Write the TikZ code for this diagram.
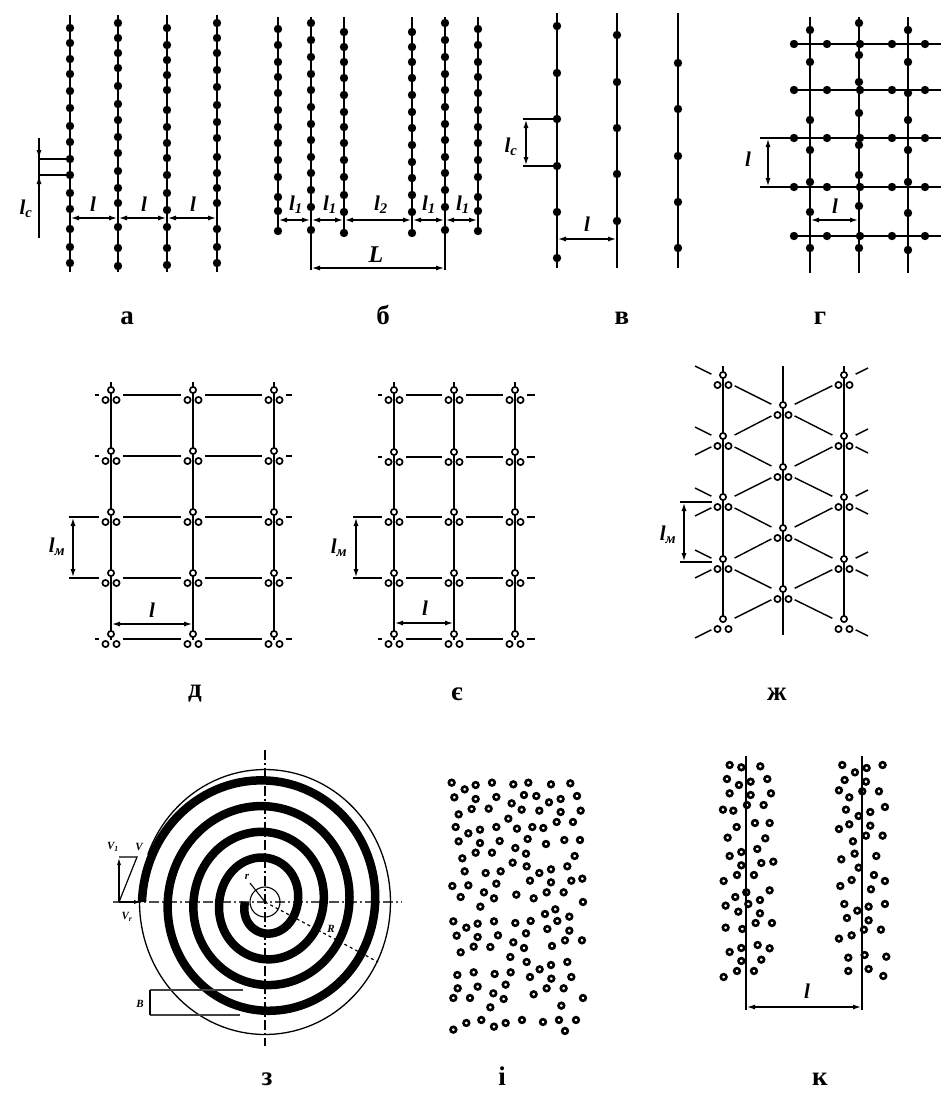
\documentclass[tikz,border=0pt]{standalone}
\usepackage{fontspec}
\setmainfont{Liberation Serif}
\usepackage{tikz}
\usetikzlibrary{positioning,arrows.meta}
\tikzset{
  wire/.style={line width=1.8pt},
  thinwire/.style={line width=1.4pt},
  thickwire/.style={line width=2.3pt},
  dimline/.style={line width=1.8pt,{Latex[length=9pt,width=5pt]}-{Latex[length=9pt,width=5pt]}},
  extline/.style={line width=1.5pt},
  dimtext/.style={font=\fontsize{21}{21}\selectfont\bfseries\itshape,inner sep=0pt},
  smalltext/.style={font=\fontsize{11}{11}\selectfont\bfseries\itshape,inner sep=0pt},
  captiontext/.style={font=\fontsize{27}{27}\selectfont\bfseries,inner sep=0pt},
  ring/.style={draw,fill=white,line width=1.7pt},
  grain/.style={line width=2.6pt},
  axisline/.style={line width=1.1pt,dash pattern=on 10pt off 3pt on 2pt off 3pt}
}
\newcommand{\triad}[2]{%
  \draw[ring] (#1,#2-5) circle[radius=3.1];
  \draw[ring] (#1-5.5,#2+5) circle[radius=3.1];
  \draw[ring] (#1+5.5,#2+5) circle[radius=3.1];
}
\begin{document}
\begin{tikzpicture}[x=1pt,y=-1pt,declare function={spr(\t)=20+\t/90*6.44+2.5*(1-cos(2*\t));outr(\t)=129-3.5*cos(2*\t);}]
\useasboundingbox (0,0) rectangle (949,1093);
% а
\foreach \x in {70,118,167,217} \draw[wire] (\x,15) -- (\x,272);
\foreach \x/\ylist in {70/{28,43,59,74,91,108,126,142,159,175,193,209,229,247,263},118/{23,38,53,68,86,104,120,137,153,171,188,203,227,248,266},167/{28,45,60,75,90,110,127,143,158,175,193,210,227,248,265},217/{23,38,53,70,87,105,122,138,157,173,188,203,229,247,263}}
  \foreach \y in \ylist \fill (\x,\y) circle[radius=4.2];
\draw[dimline] (70,218) -- (118,218);
\draw[dimline] (118,218) -- (167,218);
\draw[dimline] (167,218) -- (217,218);
\node[dimtext] (la1) at (93,204) {l};
\node[dimtext] (la2) at (144,204) {l};
\node[dimtext] (la3) at (193,204) {l};
\draw[extline] (39,159) -- (70,159);
\draw[extline] (39,175) -- (70,175);
\draw[line width=1.8pt] (39,138) -- (39,238);
\draw[line width=1.8pt,-{Latex[length=9pt,width=5pt]}] (39,142) -- (39,159);
\draw[line width=1.8pt,-{Latex[length=9pt,width=5pt]}] (39,194) -- (39,175);
\node[dimtext] (lca) at (26,209) {l\textsubscript{с}};
% б
\foreach \x in {278,311,344,412,445,478} \draw[wire] (\x,17) -- (\x,232);
\foreach \x/\ylist in {278/{29,45,62,77,93,110,127,143,160,177,197,211,231},311/{23,40,57,74,90,107,124,140,157,173,190,207,230},344/{32,47,62,78,95,112,127,143,160,177,195,212,233},412/{32,47,62,78,95,112,128,145,162,178,195,212,233},445/{23,40,57,74,90,107,124,140,157,173,190,207,230},478/{29,45,62,77,93,110,127,143,160,177,197,211,231}}
  \foreach \y in \ylist \fill (\x,\y) circle[radius=4.2];
\draw[dimline] (278,220) -- (311,220);
\draw[dimline] (311,220) -- (344,220);
\draw[dimline] (344,220) -- (412,220);
\draw[dimline] (412,220) -- (445,220);
\draw[dimline] (445,220) -- (478,220);
\node[dimtext] (l1a) at (296,205) {l\textsubscript{1}};
\node[dimtext] (l1b) at (330,205) {l\textsubscript{1}};
\node[dimtext] (l2a) at (381,205) {l\textsubscript{2}};
\node[dimtext] (l1c) at (429,205) {l\textsubscript{1}};
\node[dimtext] (l1d) at (463,205) {l\textsubscript{1}};
\draw[extline] (311,232) -- (311,270);
\draw[extline] (445,232) -- (445,270);
\draw[dimline] (311,268) -- (445,268);
\node[dimtext,font=\fontsize{24}{24}\selectfont\bfseries\itshape] (bigl) at (376,255) {L};
% в
\foreach \x in {557,617,678} \draw[wire] (\x,13) -- (\x,268);
\foreach \x/\ylist in {557/{26,73,119,166,212,258},617/{35,82,128,174,221},678/{63,109,156,202,248}}
  \foreach \y in \ylist \fill (\x,\y) circle[radius=4.2];
\draw[extline] (523,119) -- (557,119);
\draw[extline] (523,166) -- (557,166);
\draw[dimline] (526,119) -- (526,166);
\node[dimtext] (lcv) at (511,147) {l\textsubscript{с}};
\draw[dimline] (557,239) -- (617,239);
\node[dimtext] (lv) at (587,224) {l};
% г
\foreach \x in {810,859,908} \draw[wire] (\x,17) -- (\x,273);
\foreach \y in {44,236} \draw[wire] (790,\y) -- (941,\y);
\draw[thinwire] (790,90) -- (941,90);
\draw[wire] (760,138) -- (941,138);
\draw[wire] (760,187) -- (941,187);
\foreach \x/\ylist in {810/{30,62,120,150,182,212,248},859/{23,55,82,113,145,175,206,248},908/{30,62,93,120,150,182,213,250}}
  \foreach \y in \ylist \fill (\x,\y) circle[radius=4.2];
\foreach \y in {44,90,138,187,236} \foreach \x in {794,827,860,892,925} \fill (\x,\y) circle[radius=4.2];
\draw[dimline] (768,138) -- (768,187);
\node[dimtext] (lg) at (748,159) {l};
\draw[dimline] (810,220) -- (859,220);
\node[dimtext] (lh) at (835,206) {l};
% д
\foreach \y in {395,578,639} \draw[thickwire] (95,\y) -- (292,\y);
\foreach \y in {456,517} \draw[thinwire] (95,\y) -- (292,\y);
\draw[thinwire] (69,517) -- (95,517);
\draw[thickwire] (69,578) -- (95,578);
\foreach \x in {111,193,274} \foreach \y in {395,456,517,578,639} \fill[white] (\x,\y) circle[radius=12];
\foreach \x in {111,193,274} \draw[wire] (\x,382) -- (\x,640);
\foreach \x in {111,193,274} \foreach \y in {395,456,517,578,639} {\triad{\x}{\y}}
\draw[dimline] (73,517) -- (73,578);
\node[dimtext] (lmd) at (57,547) {l\textsubscript{м}};
\draw[dimline] (111,624) -- (193,624);
\node[dimtext] (ld) at (152,610) {l};
% є
\foreach \y in {395,578,639} \draw[thickwire] (378,\y) -- (535,\y);
\foreach \y in {457,517} \draw[thinwire] (378,\y) -- (535,\y);
\draw[thinwire] (353,517) -- (378,517);
\draw[thickwire] (353,578) -- (378,578);
\foreach \x in {394,454,515} \foreach \y in {395,457,517,578,639} \fill[white] (\x,\y) circle[radius=12];
\foreach \x in {394,454,515} \draw[wire] (\x,382) -- (\x,640);
\foreach \x in {394,454,515} \foreach \y in {395,457,517,578,639} {\triad{\x}{\y}}
\draw[dimline] (356,517) -- (356,578);
\node[dimtext] (lme) at (339,548) {l\textsubscript{м}};
\draw[dimline] (394,623) -- (454,623);
\node[dimtext] (le) at (425,608) {l};
% ж
\foreach \ya/\yb in {380/410,441/410,441/472,502/472,502/533,564/533,564/594,624/594} {
  \draw[thinwire] (723,\ya) -- (783,\yb);
  \draw[thinwire] (844,\ya) -- (783,\yb);
}
\foreach \y in {380,441,502,564} {
  \draw[thinwire] (723,\y) -- (695,\y-14);
  \draw[thinwire] (844,\y) -- (868,\y-12);
}
\foreach \y in {441,502,564,624} {
  \draw[thinwire] (723,\y) -- (695,\y+14);
  \draw[thinwire] (844,\y) -- (868,\y+12);
}
\foreach \x in {723,844} \foreach \y in {380,441,502,564,624} \fill[white] (\x,\y) circle[radius=13];
\foreach \y in {410,472,533,594} \fill[white] (783,\y) circle[radius=13];
\draw[thinwire] (723,366) -- (723,620);
\draw[thinwire] (783,366) -- (783,635);
\draw[thickwire] (844,366) -- (844,620);
\foreach \x in {723,844} \foreach \y in {380,441,502,564,624} {\triad{\x}{\y}}
\foreach \y in {410,472,533,594} {\triad{783}{\y}}
\draw[extline] (680,502) -- (712,502);
\draw[thickwire] (680,562) -- (712,562);
\draw[dimline] (684,502) -- (684,562);
\node[dimtext] (lmz) at (668,535) {l\textsubscript{м}};
% з
\draw[axisline,black!70] (113,902) -- (402,902);
\draw[axisline] (265,750) -- (265,1046);
\draw[line width=8.5pt] plot[domain=0:1440,samples=500,variable=\t] ({265-spr(\t)*cos(\t)},{902+spr(\t)*sin(\t)});
\draw[line width=1.3pt] plot[domain=0:338,samples=120,variable=\t] ({265-outr(\t)*cos(\t)},{902+outr(\t)*sin(\t)});
\draw[line width=1.1pt] (265,902) circle[radius=15];
\draw[line width=1.2pt,dashed] (265,902) -- (378,962);
\draw[line width=1.1pt] (250,883) -- (265,902);
\draw[line width=1.2pt] (119,902) -- (137,857) -- (119,857);
\draw[line width=1.5pt,-{Latex[length=8pt,width=4pt]}] (119,902) -- (119,857);
\draw[line width=2pt,-{Latex[length=8pt,width=4pt]}] (119,902) -- (142,902);
\draw[extline,black!75] (150,990) -- (243,990);
\draw[extline,black!75] (150,1015) -- (240,1015);
\draw[extline] (150,990) -- (150,1015);
\node[smalltext] (vone) at (113,847) {V\textsubscript{1}};
\node[smalltext] (vall) at (139,847) {V};
\node[smalltext] (vrad) at (127,917) {V\textsubscript{r}};
\node[smalltext] (rsmall) at (247,877) {r};
\node[smalltext,fill=white,inner sep=1pt] (rbig) at (331,929) {R};
\node[smalltext] (bwidth) at (140,1004) {B};
% і
\begin{scope}[shift={(430,750)},scale=0.3333]
\foreach \p in {(65,98),(104,118),(137,105),(186,98),(250,103),(295,98),(363,103),(421,100),(73,142),(137,147),(199,141),(282,135),(319,138),(357,157),(392,147),(441,138),(245,160),(125,177),(176,176),(275,179),(328,182),(392,186),(452,182),(86,193),(235,206),(380,216),(429,216),(77,231),(115,250),(150,239),(199,231),(261,236),(307,231),(340,234),(86,274),(150,279),(209,273),(293,267),(348,282),(403,270),(450,270),(137,308),(186,308),(256,294),(288,311),(97,325),(434,318),(248,338),(290,349),(104,364),(167,369),(212,364),(328,369),(363,358),(412,349),(300,392),(363,397),(424,392),(457,386),(67,408),(115,406),(199,401),(162,427),(92,441),(192,445),(259,434),(311,445),(350,427),(401,427),(459,456),(151,470),(376,478),(345,492),(418,500),(70,514),(192,514),(302,513),(382,513),(109,533),(143,521),(256,519),(352,537),(418,542),(80,557),(143,561),(204,556),(288,550),(456,571),(405,571),(250,577),(131,590),(181,591),(282,594),(366,588),(92,607),(241,621),(412,636),(290,636),(363,645),(329,658),(82,675),(131,667),(194,672),(242,667),(300,681),(364,686),(424,681),(227,704),(143,710),(83,715),(350,715),(401,715),(190,730),(311,733),(70,744),(120,744),(221,747),(459,744),(181,772),(394,767),(109,819),(154,810),(192,830),(227,819),(276,810),(339,816),(387,810),(438,810),(70,839),(405,843)}
  \draw[grain] \p circle[radius=8.5];
% к
\foreach \p in {(899,45),(934,52),(991,49),(891,87),(927,105),(962,95),(1012,87),(899,130),(962,135),(1023,130),(951,165),(1001,165),(879,179),(910,182),(975,219),(1019,219),(920,231),(893,263),(1006,265),(982,297),(899,318),(934,306),(934,346),(994,339),(1030,335),(921,375),(972,375),(881,393),(949,427),(1019,421),(916,441),(955,462),(990,450),(887,467),(925,485),(990,490),(977,519),(1026,519),(887,533),(937,537),(983,585),(1019,595),(899,606),(934,594),(934,633),(994,629),(921,663),(972,663),(881,681),(1237,45),(1275,67),(1310,54),(1358,45),(1244,90),(1308,95),(1227,121),(1297,124),(1347,124),(1258,142),(1248,179),(1321,186),(1365,171),(1286,198),(1227,237),(1258,223),(1321,227),(1308,257),(1358,257),(1269,274),(1234,328),(1274,311),(1339,318),(1286,353),(1332,375),(1231,408),(1265,390),(1365,393),(1323,418),(1243,462),(1282,482),(1316,470),(1365,462),(1251,504),(1316,511),(1302,539),(1353,539),(1227,566),(1265,556),(1255,623),(1304,615),(1369,620),(1255,663),(1316,657),(1360,678)}
  \draw[grain] \p circle[radius=8.5];
\end{scope}
\draw[wire] (746,756) -- (746,1010);
\draw[wire] (862,756) -- (862,1010);
\draw[dimline] (746,1007) -- (862,1007);
\node[dimtext] (lk) at (807,991) {l};
% captions
\node[captiontext] (capa) at (127,318) {а};
\node[captiontext] (capb) at (383,315) {б};
\node[captiontext] (capv) at (622,318) {в};
\node[captiontext] (capg) at (820,318) {г};
\node[captiontext] (capd) at (195,694) {д};
\node[captiontext] (cape) at (457,694) {є};
\node[captiontext] (capz) at (777,694) {ж};
\node[captiontext] (capzz) at (267,1079) {з};
\node[captiontext] (capi) at (502,1076) {і};
\node[captiontext] (capk) at (820,1079) {к};
\end{tikzpicture}
\end{document}
